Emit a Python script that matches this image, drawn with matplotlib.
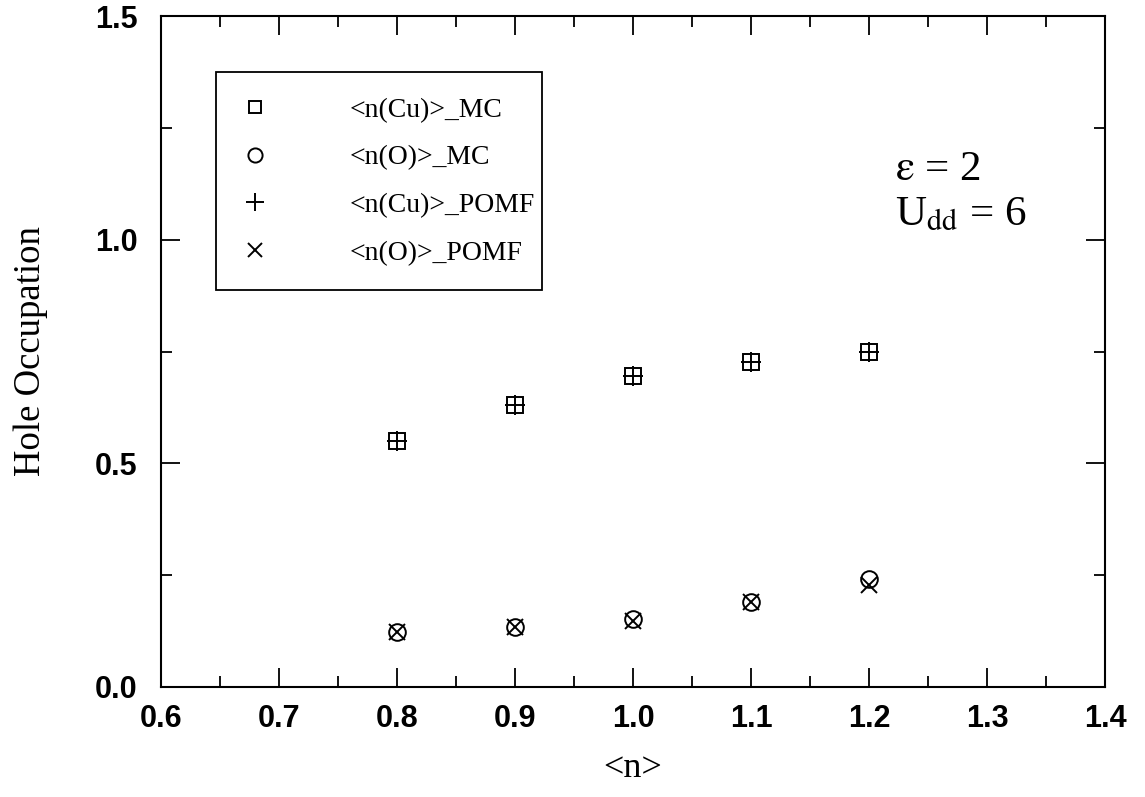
import numpy as np
import matplotlib
matplotlib.use("Agg")
import matplotlib.pyplot as plt
from matplotlib.ticker import MultipleLocator, FormatStrFormatter
from matplotlib.patches import Rectangle

plt.rcParams['mathtext.fontset'] = 'stix'

# filling <n> and hole occupations on Cu and O sites
n_fill      = [0.8, 0.9, 1.0, 1.1, 1.2]
cu_mc       = [0.551, 0.630, 0.695, 0.726, 0.749]
o_mc        = [0.124, 0.135, 0.151, 0.191, 0.241]
cu_pomf     = [0.551, 0.630, 0.695, 0.726, 0.749]
o_pomf      = [0.124, 0.135, 0.148, 0.189, 0.229]

labels = ["<n(Cu)>_MC", "<n(O)>_MC", "<n(Cu)>_POMF", "<n(O)>_POMF"]

SERIF = "Liberation Serif"
SANS  = "Liberation Sans"

fig = plt.figure(figsize=(11.45, 7.97), dpi=100)
ax = fig.add_axes([161/1145, 1 - 687/797, (1105-161)/1145, (687-16)/797])

ms, mew = 11, 1.4
ax.plot(n_fill, cu_mc,   ls='none', marker='s', ms=ms,   mfc='none', mec='black', mew=mew, label=labels[0])
ax.plot(n_fill, o_mc,    ls='none', marker='o', ms=ms+1, mfc='none', mec='black', mew=mew, label=labels[1])
ax.plot(n_fill, cu_pomf, ls='none', marker='+', ms=ms+4, mec='black', mew=mew, label=labels[2])
ax.plot(n_fill, o_pomf,  ls='none', marker='x', ms=ms+1, mec='black', mew=mew, label=labels[3])

ax.set_xlim(0.6, 1.4)
ax.set_ylim(0.0, 1.5)
ax.xaxis.set_major_locator(MultipleLocator(0.1))
ax.xaxis.set_minor_locator(MultipleLocator(0.05))
ax.yaxis.set_major_locator(MultipleLocator(0.5))
ax.yaxis.set_minor_locator(MultipleLocator(0.25))
ax.tick_params(which='both', direction='in', top=True, right=True, width=1.3, color='black')
ax.tick_params(which='major', length=14)
ax.tick_params(which='minor', length=8)
ax.tick_params(axis='x', which='major', pad=12)
ax.tick_params(axis='y', which='major', pad=17)
ax.xaxis.set_major_formatter(FormatStrFormatter('%.1f'))
ax.yaxis.set_major_formatter(FormatStrFormatter('%.1f'))
for lab in ax.get_xticklabels() + ax.get_yticklabels():
    lab.set_fontfamily(SANS)
    lab.set_fontsize(22)
    lab.set_fontweight('bold')
for sp in ax.spines.values():
    sp.set_linewidth(1.5)

ax.set_xlabel("<n>", fontfamily=SERIF, fontsize=26, labelpad=13)
ax.set_ylabel("Hole Occupation", fontfamily=SERIF, fontsize=26.5, labelpad=34)

# legend box drawn separately so the entries can sit loosely inside it
ax.add_patch(Rectangle((0.0583, 0.5917), 0.3453, 0.3248, transform=ax.transAxes,
                       fill=False, edgecolor='black', linewidth=1.3, zorder=3))
leg = ax.legend(loc='upper left', bbox_to_anchor=(0.0847, 0.879), borderaxespad=0,
                prop={'family': SERIF, 'size': 20}, frameon=False, borderpad=0,
                labelspacing=0.8, handlelength=1.0, handletextpad=2.9, markerscale=0.85)

ax.text(0.7775, 0.7556, r"$\mathrm{\varepsilon}$ = 2", transform=ax.transAxes,
        fontfamily=SERIF, fontsize=31)
ax.text(0.7775, 0.6885, r"U$_{\mathrm{dd}}$ = 6", transform=ax.transAxes,
        fontfamily=SERIF, fontsize=31)

fig.savefig("out.png", dpi=100)
